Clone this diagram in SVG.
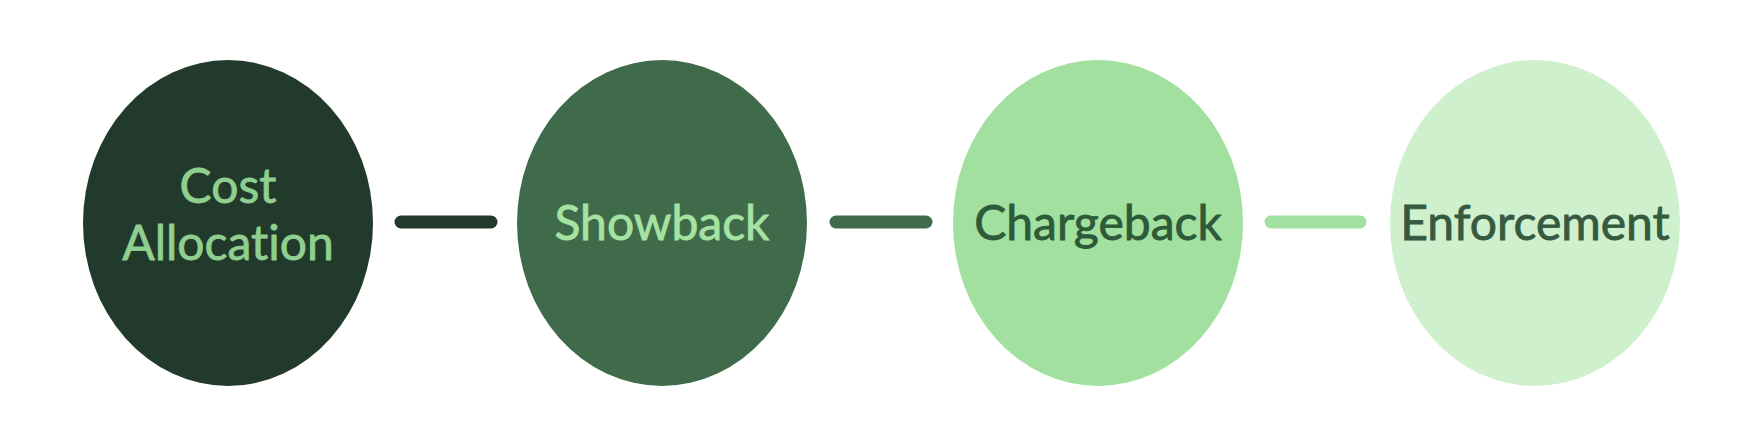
<svg xmlns="http://www.w3.org/2000/svg" width="1756" height="432" viewBox="0 0 1756 432">
<style>
text{font-family:Lato,"Open Sans","Noto Sans",sans-serif;font-size:48px;text-anchor:middle;font-variant-ligatures:none;stroke-width:0.8}
.c{stroke-width:13;stroke-linecap:round;fill:none}
</style>
<rect width="1756" height="432" fill="#ffffff"/>
<g id="connectors">
<line class="c" x1="401" y1="222" x2="491" y2="222" stroke="#223a2b"/>
<line class="c" x1="836" y1="222" x2="926" y2="222" stroke="#3f6b4b"/>
<line class="c" x1="1271" y1="222" x2="1360" y2="222" stroke="#a2e09f"/>
</g>
<g id="n1">
<ellipse cx="228" cy="223" rx="145" ry="163" fill="#223a2b"/>
<text x="228" y="203" fill="#8fcf90" stroke="#8fcf90">Cost</text>
<text x="228" y="260" fill="#8fcf90" stroke="#8fcf90">Allocation</text>
</g>
<g id="n2">
<ellipse cx="662" cy="223" rx="145" ry="163" fill="#3f6b4b"/>
<text x="662" y="240" fill="#a6e3a3" stroke="#a6e3a3">Showback</text>
</g>
<g id="n3">
<ellipse cx="1098" cy="223" rx="145" ry="163" fill="#a2e09f"/>
<text x="1098" y="240" fill="#2d5a38" stroke="#2d5a38">Chargeback</text>
</g>
<g id="n4">
<ellipse cx="1535" cy="223" rx="145" ry="163" fill="#cff0cc"/>
<text x="1535" y="240" fill="#355a3f" stroke="#355a3f">Enforcement</text>
</g>
</svg>
